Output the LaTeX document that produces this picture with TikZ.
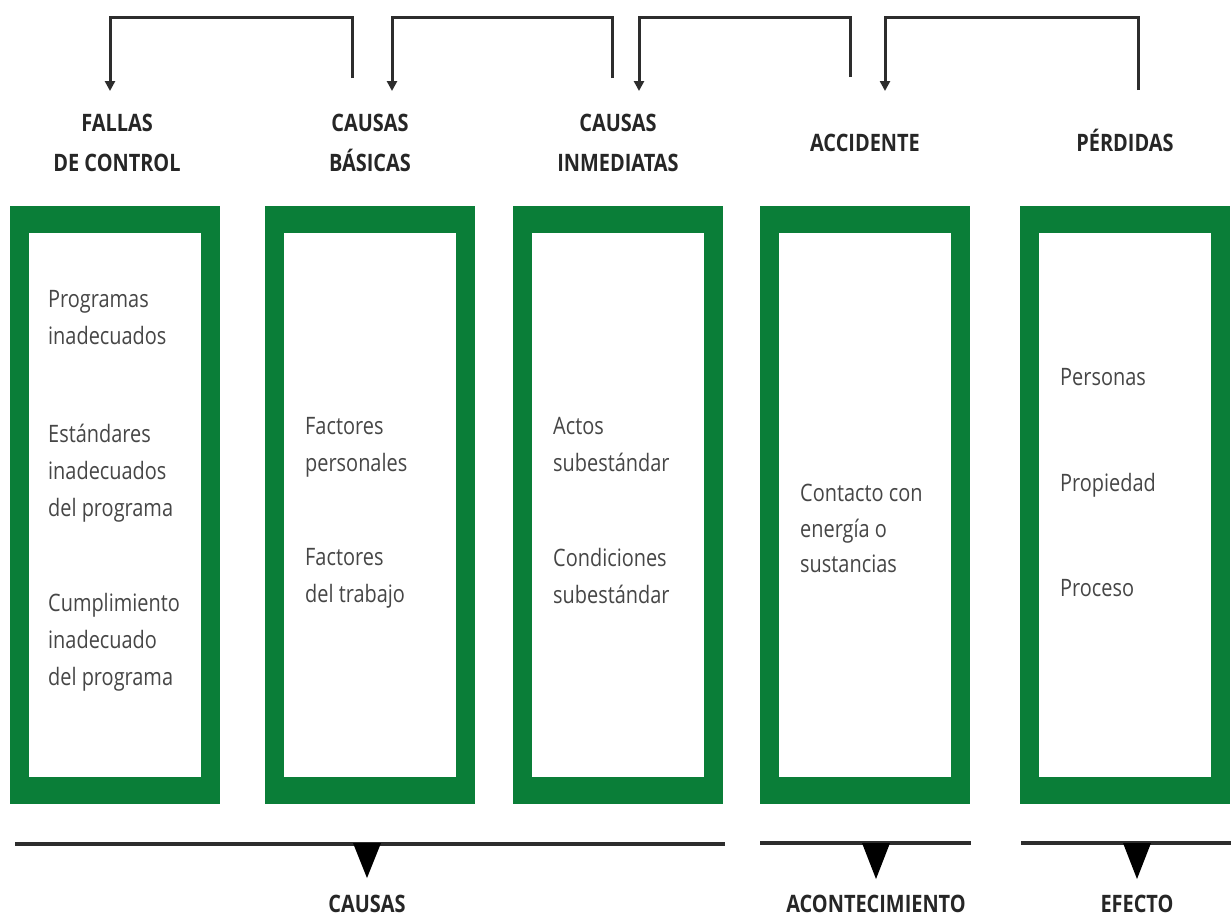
\documentclass[tikz,border=0pt]{standalone}
\usepackage{fontspec}
\setmainfont{Open Sans}[FakeStretch=0.83]
\usetikzlibrary{arrows.meta}
\definecolor{boxgreen}{RGB}{10,126,56}
\definecolor{txtgray}{RGB}{70,70,70}
\definecolor{linegray}{RGB}{45,45,45}
\tikzset{
  outerbox/.style={fill=boxgreen,draw=none,inner sep=0,minimum width=210pt,minimum height=598pt,anchor=north west},
  innerbox/.style={fill=white,draw=none,inner sep=0,minimum width=172pt,minimum height=544pt,anchor=north west},
  bodytext/.style={anchor=north west,inner sep=0,align=left,text=txtgray,font=\fontsize{24}{37}\selectfont},
  headtext/.style={anchor=base,inner sep=0,align=center,text=black!85,font=\bfseries\fontsize{24}{40}\selectfont},
  bracket/.style={draw=linegray,line width=3pt},
  bracketarrow/.style={bracket,-{Triangle[width=10pt,length=10pt]}},
  baseline/.style={draw=linegray,line width=4pt},
  tri/.style={fill=black,draw=none}
}
\begin{document}
\begin{tikzpicture}[x=1pt,y=-1pt]
\useasboundingbox (0,0) rectangle (1231,919);
\fill[white] (0,0) rectangle (1231,919);

% boxes
\node[outerbox] (b1) at (10,206) {};
\node[innerbox] (i1) at (29,233) {};
\node[outerbox] (b2) at (265,206) {};
\node[innerbox] (i2) at (284,233) {};
\node[outerbox] (b3) at (513,206) {};
\node[innerbox] (i3) at (532,233) {};
\node[outerbox] (b4) at (760,206) {};
\node[innerbox] (i4) at (779,233) {};
\node[outerbox] (b5) at (1020,206) {};
\node[innerbox] (i5) at (1039,233) {};

% headings (base anchor = last line baseline)
\node[headtext] (h1) at (117,171) {FALLAS\\DE CONTROL};
\node[headtext] (h2) at (370,171) {CAUSAS\\BÁSICAS};
\node[headtext] (h3) at (618,171) {CAUSAS\\INMEDIATAS};
\node[headtext] (h4) at (865,151) {ACCIDENTE};
\node[headtext] (h5) at (1125,151) {PÉRDIDAS};

% body texts
\node[bodytext] (t11) at (48,290) {Programas\\inadecuados};
\node[bodytext] (t12) at (48,424) {Estándares\\inadecuados\\del programa};
\node[bodytext] (t13) at (48,593) {Cumplimiento\\inadecuado\\del programa};
\node[bodytext] (t21) at (305,417) {Factores\\personales};
\node[bodytext] (t22) at (305,548) {Factores\\del trabajo};
\node[bodytext] (t31) at (553,417) {Actos\\subestándar};
\node[bodytext] (t32) at (553,548) {Condiciones\\subestándar};
\node[bodytext,font=\fontsize{24}{35.5}\selectfont] (t41) at (800,484) {Contacto con\\energía o\\sustancias};
\node[bodytext] (t51) at (1060,368) {Personas};
\node[bodytext] (t52) at (1060,473) {Propiedad};
\node[bodytext] (t53) at (1060,579) {Proceso};

% top brackets
\coordinate (top) at (0,17);
\coordinate (a1s) at (352,78); \coordinate (a1e) at (110,91);
\coordinate (a2s) at (612,78); \coordinate (a2e) at (392,91);
\coordinate (a3s) at (850,77); \coordinate (a3e) at (639,91);
\coordinate (a4s) at (1138,90); \coordinate (a4e) at (885,91);
\draw[bracketarrow] (a1s) -- (a1s |- top) -- (a1e |- top) -- (a1e);
\draw[bracketarrow] (a2s) -- (a2s |- top) -- (a2e |- top) -- (a2e);
\draw[bracketarrow] (a3s) -- (a3s |- top) -- (a3e |- top) -- (a3e);
\draw[bracketarrow] (a4s) -- (a4s |- top) -- (a4e |- top) -- (a4e);

% bottom lines
\coordinate (l1a) at (15,844); \coordinate (l1b) at (725,844);
\coordinate (l2a) at (760,843); \coordinate (l2b) at (971,843);
\coordinate (l3a) at (1021,843); \coordinate (l3b) at (1231,843);
\draw[baseline] (l1a) -- (l1b);
\draw[baseline] (l2a) -- (l2b);
\draw[baseline] (l3a) -- (l3b);
\fill[tri] (353,843) -- (381,843) -- (367,878) -- cycle;
\fill[tri] (862,843) -- (890,843) -- (876,879) -- cycle;
\fill[tri] (1123,843) -- (1151,843) -- (1137,879) -- cycle;

% bottom labels
\node[headtext] (c1) at (367,912) {CAUSAS};
\node[headtext] (c2) at (876,912) {ACONTECIMIENTO};
\node[headtext] (c3) at (1137,912) {EFECTO};
\end{tikzpicture}
\end{document}
